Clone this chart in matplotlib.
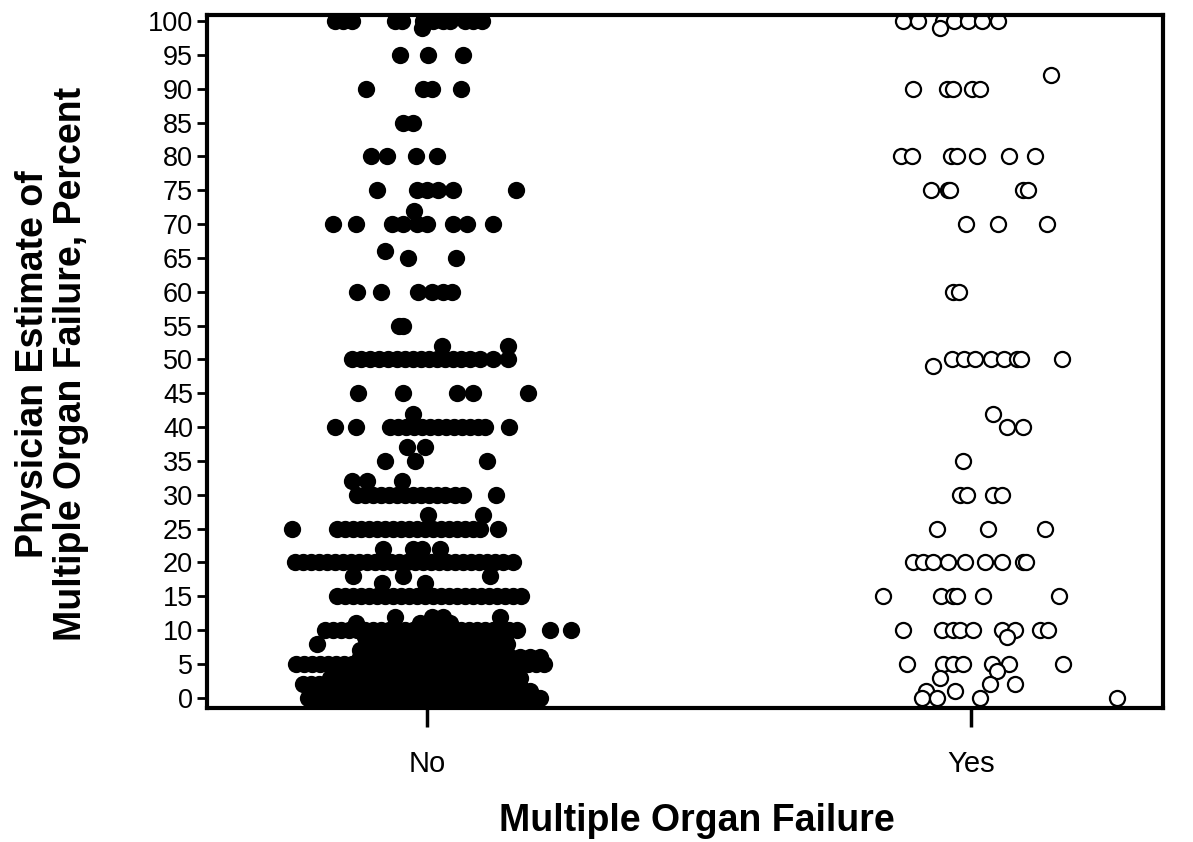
import numpy as np
import matplotlib
matplotlib.use('Agg')
from matplotlib import pyplot as plt

plt.rcParams['font.family'] = ['Liberation Sans', 'DejaVu Sans']

groups = ['No', 'Yes']

# physician estimates (%), row by row
# jitter = horizontal spread around the category, in thousandths of a category step
no_pct = ([100] * 12 + [99] + [95] * 3 + [90] * 4 + [85] * 2 + [80] * 4 + [75] * 6 +
          [72] + [70] * 9 + [66] + [65] * 2 + [60] * 6 + [55] * 2 + [52] * 2 +
          [50] * 18 + [45] * 5 + [42] + [40] * 16 + [37] * 2 + [35] * 3 + [32] * 3 +
          [30] * 15 + [27] * 2 + [25] * 21 + [22] * 4 + [20] * 28 + [18] * 3 +
          [17] * 2 + [15] * 24 + [12] * 4 + [11] * 4 + [10] * 27 + [9] * 15 +
          [8] * 16 + [7] * 14 + [6] * 19 + [5] * 32 + [4] * 15 + [3] * 20 +
          [2] * 28 + [1] * 22 + [0] * 30)
no_jit = [
    -169, -154, -138, -59, -46, -7, 11, 29, 42, 70, 85, 101,          # 100
    -9,                                                               # 99
    -50, 2, 66,                                                       # 95
    -112, -7, 9, 63,                                                  # 90
    -44, -26,                                                         # 85
    -103, -74, -20, 18,                                               # 80
    -92, -18, 0, 20, 48, 164,                                         # 75
    -24,                                                              # 72
    -173, -131, -64, -44, -18, 0, 48, 74, 121,                        # 70
    -77,                                                              # 66
    -35, 53,                                                          # 65
    -129, -85, -17, 9, 29, 46,                                        # 60
    -51, -44,                                                         # 55
    28, 149,                                                          # 52
    -138, -121, -105, -88, -72, -55, -40, -26, -11, 4, 18, 33, 48, 63,
    79, 97, 121, 149,                                                 # 50
    -127, -44, 55, 85, 186,                                           # 45
    -26,                                                              # 42
    -169, -131, -68, -53, -39, -24, -9, 6, 20, 35, 50, 64, 79, 94,
    107, 151,                                                         # 40
    -37, -4,                                                          # 37
    -77, -22, 110,                                                    # 35
    -138, -110, -46,                                                  # 32
    -129, -114, -99, -85, -70, -55, -40, -26, -11, 4, 18, 33, 51, 66,
    127,                                                              # 30
    2, 103,                                                           # 27
    -248, -165, -151, -136, -121, -107, -92, -77, -63, -48, -33, -18,
    -4, 11, 26, 40, 55, 70, 85, 97, 131,                              # 25
    -81, -26, -9, 24,                                                 # 22
    -243, -228, -213, -199, -184, -169, -154, -140, -125, -110, -96,
    -81, -66, -51, -37, -22, -7, 7, 22, 37, 51, 66, 81, 96, 110, 125,
    140, 158,                                                         # 20
    -136, -44, 116,                                                   # 18
    -83, -4,                                                          # 17
    -165, -151, -136, -121, -107, -92, -77, -63, -48, -33, -18, -4,
    11, 26, 40, 55, 70, 85, 99, 114, 129, 143, 158, 173,              # 15
    -59, 9, 29, 134,                                                  # 12
    -131, -13, 24, 42,                                                # 11
    -188, -173, -158, -143, -129, -114, -99, -85, -70, -55, -40, -26,
    -11, 4, 18, 33, 48, 63, 77, 92, 107, 121, 136, 151, 165, 226, 265,  # 10
    -114, -96, -77, -59, -40, -22, -4, 15, 33, 51, 70, 88, 107, 125,
    143,                                                              # 9
    -202, -110, -92, -74, -55, -37, -18, 0, 18, 37, 55, 74, 92, 110,
    129, 147,                                                         # 8
    -123, -105, -86, -68, -50, -31, -13, 6, 24, 42, 61, 107, 125, 143,  # 7
    -123, -105, -86, -68, -50, -31, -13, 6, 24, 42, 61, 79, 97, 116,
    134, 153, 171, 189, 208,                                          # 6
    -241, -226, -211, -197, -182, -167, -153, -138, -123, -108, -94,
    -79, -64, -50, -35, -20, -6, 9, 24, 39, 53, 68, 83, 97, 112, 127,
    142, 156, 171, 186, 200, 215,                                     # 5
    -160, -142, -123, -105, -86, -68, -50, -31, -13, 6, 24, 42, 61, 79,
    97,                                                               # 4
    -178, -160, -142, -123, -105, -86, -68, -50, -31, -13, 6, 24, 42,
    61, 79, 97, 116, 134, 153, 171,                                   # 3
    -228, -213, -199, -184, -169, -154, -140, -125, -110, -96, -81, -66,
    -51, -37, -22, -7, 7, 22, 37, 51, 66, 81, 96, 110, 125, 140, 154,
    169,                                                              # 2
    -197, -178, -160, -142, -123, -105, -86, -68, -50, -31, -13, 6, 24,
    42, 61, 79, 97, 116, 134, 153, 171, 189,                          # 1
    -219, -204, -189, -175, -160, -145, -131, -116, -101, -86, -72, -57,
    -42, -28, -13, 2, 17, 31, 46, 61, 75, 90, 105, 119, 134, 149, 164,
    178, 193, 208,                                                    # 0
]

yes_pct = ([100] * 7 + [99] + [92] + [90] * 5 + [80] * 7 + [75] * 5 + [70] * 3 +
           [60] * 2 + [50] * 8 + [49] + [42] + [40] * 2 + [35] + [30] * 4 +
           [25] * 3 + [20] * 9 + [15] * 6 + [10] * 9 + [9] + [5] * 7 + [4] +
           [3] + [2] * 2 + [1] * 2 + [0] * 4)
yes_jit = [
    -125, -97, -51, -31, -6, 20, 50,          # 100
    -57,                                      # 99
    147,                                      # 92
    -107, -44, -33, 2, 17,                    # 90
    -129, -108, -37, -26, 11, 70, 118,        # 80
    -74, -42, -39, 96, 105,                   # 75
    -9, 50, 140,                              # 70
    -33, -22,                                 # 60
    -35, -13, 7, 37, 61, 85, 92, 167,         # 50
    -70,                                      # 49
    40,                                       # 42
    66, 96,                                   # 40
    -15,                                      # 35
    -20, -7, 40, 57,                          # 30
    -63, 31, 136,                             # 25
    -107, -88, -70, -42, -11, 26, 57, 96, 101,  # 20
    -162, -55, -33, -26, 22, 162,             # 15
    -125, -53, -33, -20, 4, 57, 81, 127, 142,   # 10
    66,                                       # 9
    -118, -51, -33, -15, 39, 70, 169,         # 5
    48,                                       # 4
    -57,                                      # 3
    35, 81,                                   # 2
    -83, -29,                                 # 1
    -90, -63, 17, 268,                        # 0
]

fig = plt.figure(figsize=(11.93, 8.42), dpi=100)
ax = fig.add_axes([207 / 1193, 1 - 708 / 842, 956 / 1193, 693 / 842])

ax.scatter(0 + np.array(no_jit) / 1000, no_pct, s=155, color='black', linewidths=0)
ax.scatter(1 + np.array(yes_jit) / 1000, yes_pct, s=118, facecolors='white',
           edgecolors='black', linewidths=1.6)

ax.set_xlim(-0.404, 1.353)
ax.set_ylim(-1.5, 100.9)
ax.set_xticks([0, 1])
ax.set_xticklabels(groups, fontsize=21)
ax.set_yticks(range(0, 101, 5))
ax.set_yticklabels([str(v) for v in range(0, 101, 5)], fontsize=19.5)
ax.tick_params(axis='y', direction='out', length=7, width=2, pad=3)
ax.tick_params(axis='x', direction='out', length=14, width=2.5, pad=16)
for sp in ax.spines.values():
    sp.set_linewidth(3)

ax.set_xlabel('Multiple Organ Failure', fontsize=27, fontweight='bold')
ax.xaxis.set_label_coords(0.5126, -0.137)
fig.text(52 / 1193, 1 - 364 / 842, 'Physician Estimate of\nMultiple Organ Failure, Percent',
         rotation=90, ha='center', va='center', fontsize=27, fontweight='bold',
         linespacing=1.05)

fig.savefig('out.png', dpi=100)
